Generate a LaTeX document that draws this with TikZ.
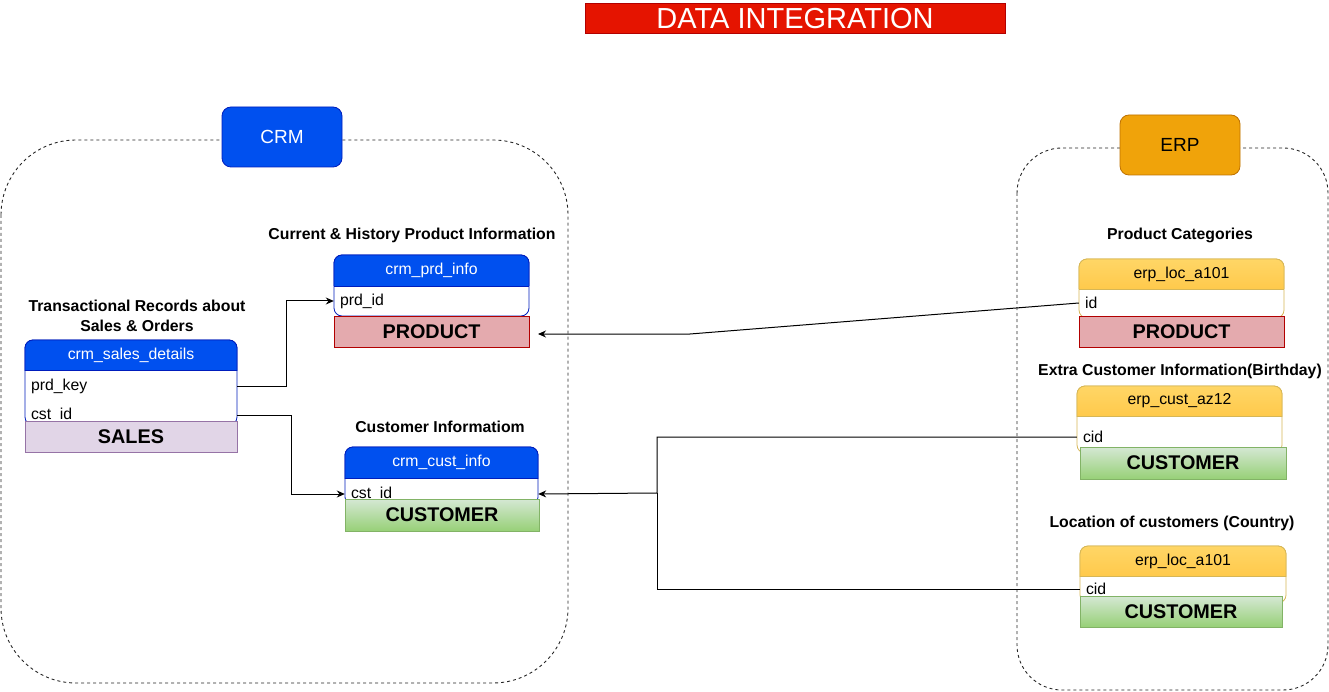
\documentclass[tikz,border=0pt]{standalone}
\usepackage{fontspec}
\setmainfont{Liberation Sans}
\usetikzlibrary{arrows.meta}
\definecolor{titlered}{RGB}{229,20,0}
\definecolor{titleborder}{RGB}{178,0,0}
\definecolor{crmblue}{RGB}{0,80,239}
\definecolor{crmborder}{RGB}{0,29,188}
\definecolor{erpfill}{RGB}{240,163,10}
\definecolor{erpborder}{RGB}{189,112,0}
\definecolor{salesfill}{RGB}{225,213,231}
\definecolor{salesborder}{RGB}{150,115,166}
\definecolor{prodfill}{RGB}{228,170,174}
\definecolor{prodborder}{RGB}{178,0,0}
\definecolor{greentop}{RGB}{213,232,212}
\definecolor{greenbot}{RGB}{151,208,119}
\definecolor{greenborder}{RGB}{130,179,102}
\definecolor{yeltop}{RGB}{255,214,102}
\definecolor{yelbot}{RGB}{255,193,58}
\definecolor{yelborder}{RGB}{214,182,86}
% #1 x1, #2 x2, #3 top, #4 header bottom, #5 body bottom, #6 border colour, #7 header fill options
\newcommand{\dbtable}[7]{%
  \draw[draw=#6, fill=white, line width=0.8pt, rounded corners=8pt] (#1,#3) rectangle (#2,#5);
  \begin{scope}
    \clip (#1-2,#3-2) rectangle (#2+2,#4);
    \draw[draw=#6, #7, line width=0.8pt, rounded corners=8pt] (#1,#3) rectangle (#2,#4+20);
  \end{scope}
  \draw[draw=#6, line width=0.8pt] (#1,#4) -- (#2,#4);
}
\tikzset{
  container/.style={draw=black!85, line width=0.9pt, dash pattern=on 3pt off 3pt},
  lbl/.style={rounded corners=9pt, line width=0.8pt, minimum width=120pt, minimum height=60pt, font=\fontsize{19}{22}\selectfont},
  ttl/.style={font=\fontsize{15.8}{20}\selectfont\bfseries, align=center, inner sep=0pt},
  hdrtext/.style={font=\fontsize{15.8}{18}\selectfont, inner sep=0pt},
  field/.style={font=\fontsize{15.8}{18}\selectfont, inner xsep=6pt, inner ysep=0pt, minimum height=22pt, align=left},
  entity/.style={font=\fontsize{19.8}{22}\selectfont\bfseries, line width=0.8pt, minimum height=31pt, inner sep=0pt},
  salesbox/.style={entity, fill=salesfill, draw=salesborder},
  prodbox/.style={entity, fill=prodfill, draw=prodborder},
  custbox/.style={entity, top color=greentop, bottom color=greenbot, draw=greenborder},
  arr/.style={-{Stealth[length=8pt,width=7pt]}, line width=1pt},
  conn/.style={line width=1pt}
}
\begin{document}
\begin{tikzpicture}[x=1pt,y=-1pt]
\useasboundingbox (0,0) rectangle (1329,692);
% title
\node[fill=titlered, draw=titleborder, line width=0.8pt, minimum width=420pt, minimum height=30pt, inner sep=0pt, text=white, font=\fontsize{29}{30}\selectfont] (title) at (795,18.5) {DATA INTEGRATION};
% containers
\draw[container, rounded corners=75pt] (1,140) rectangle (568,683);
\draw[container, rounded corners=45pt] (1017,148) rectangle (1328,690);
\node[lbl, fill=crmblue, draw=crmborder, text=white] (crm) at (282,137) {CRM};
\node[lbl, fill=erpfill, draw=erpborder, text=black] (erp) at (1180,145) {ERP};
% titles
\node[ttl] (tSales) at (137,316) {Transactional Records about\\Sales \& Orders};
\node[ttl] (tPrd) at (412,235) {Current \& History Product Information};
\node[ttl] (tCust) at (440,427) {Customer Informatiom};
\node[ttl] (tCat) at (1180,235) {Product Categories};
\node[ttl] (tAz) at (1180,371) {Extra Customer Information(Birthday)};
\node[ttl] (tLoc) at (1172,523) {Location of customers (Country)};
% crm_sales_details
\dbtable{25}{237}{340}{370}{425}{crmborder}{fill=crmblue}
\node[hdrtext, text=white] (hSales) at (131,355) {crm\_sales\_details};
\node[field, text width=200pt] (fSalesPrd) at (131,386) {prd\_key};
\node[field, text width=200pt] (fSalesCst) at (131,415) {cst\_id};
\node[salesbox, minimum width=212pt] (sales) at (131,437) {SALES};
% crm_prd_info
\dbtable{334}{529}{255}{286}{316}{crmborder}{fill=crmblue}
\node[hdrtext, text=white] (hPrd) at (431.5,270.5) {crm\_prd\_info};
\node[field, text width=183pt] (fPrd) at (431.5,301) {prd\_id};
\node[prodbox, minimum width=195pt] (crmProd) at (431.5,331.5) {PRODUCT};
% crm_cust_info
\dbtable{345}{538}{447}{478}{505}{crmborder}{fill=crmblue}
\node[hdrtext, text=white] (hCust) at (441.5,462.5) {crm\_cust\_info};
\node[field, text width=181pt] (fCust) at (441.5,494) {cst\_id};
\node[custbox, minimum width=194pt, minimum height=32pt] (crmCust) at (442,515) {CUSTOMER};
% erp_loc_a101 (product)
\dbtable{1079}{1284}{259}{289}{318}{yelborder}{top color=yeltop, bottom color=yelbot}
\node[hdrtext, text=black] (hErpPrd) at (1181.5,274) {erp\_loc\_a101};
\node[field, text width=193pt] (fErpId) at (1181.5,303) {id};
\node[prodbox, minimum width=205pt] (erpProd) at (1181.5,331.5) {PRODUCT};
% erp_cust_az12
\dbtable{1077}{1282}{386}{416}{453}{yelborder}{top color=yeltop, bottom color=yelbot}
\node[hdrtext, text=black] (hAz) at (1179.5,401) {erp\_cust\_az12};
\node[field, text width=193pt] (fAz) at (1179.5,437) {cid};
\node[custbox, minimum width=206pt, minimum height=32pt] (azCust) at (1183,463) {CUSTOMER};
% erp_loc_a101 (customer)
\dbtable{1080}{1286}{546}{576}{603}{yelborder}{top color=yeltop, bottom color=yelbot}
\node[hdrtext, text=black] (hLoc) at (1183,561) {erp\_loc\_a101};
\node[field, text width=194pt] (fLoc) at (1183,589) {cid};
\node[custbox, minimum width=202pt, minimum height=31pt] (locCust) at (1181,611.5) {CUSTOMER};
% connectors
\coordinate (bend) at (690,334);
\coordinate (prdIn) at (538,334);
\coordinate (junc) at (657,493);
\draw[arr] (fSalesPrd.east) -- ++(49,0) |- (fPrd.west);
\draw[arr] (fSalesCst.east) -- ++(54,0) |- (fCust.west);
\draw[arr] (fErpId.west) -- (bend) -- (prdIn);
\draw[arr] (fAz.west) -| (junc) -- (fCust.east);
\draw[conn] (fLoc.west) -| (junc);
\end{tikzpicture}
\end{document}
